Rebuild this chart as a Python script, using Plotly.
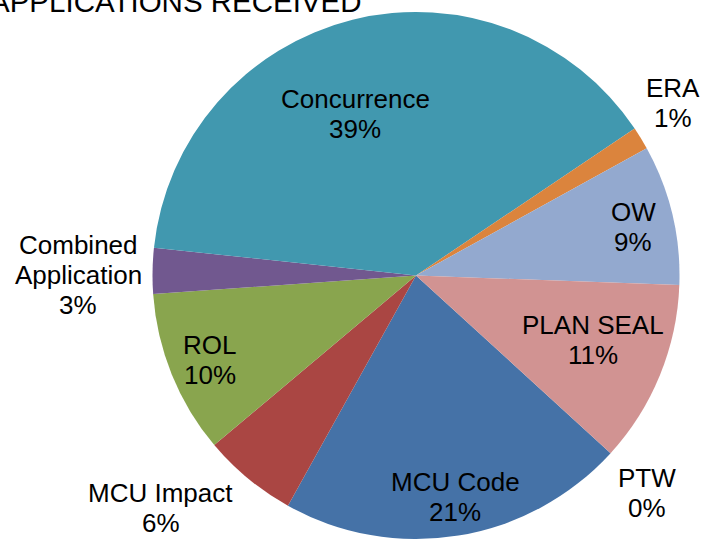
import math
import plotly.graph_objects as go

# ---- data ----
labels = ["MCU Code", "MCU Impact", "ROL", "Combined<br>Application", "Concurrence",
          "ERA", "OW", "PLAN SEAL", "PTW"]
values = [21.3, 5.8, 10.0, 2.8, 38.9, 1.4, 8.6, 11.2, 0.0]
title_text = "APPLICATIONS RECEIVED"

# ---- style ----
colors = ["#4572A7", "#AA4643", "#89A54E", "#71588F", "#4198AF",
          "#DB843D", "#93A9CF", "#D19392", "#B5CA92"]
# label placement: (angle nudge from slice bisector in degrees, radius as fraction of pie radius)
label_place = [(-1.0, 0.83), (8.6, 1.285), (0.5, 0.83), (-0.3, 1.266), (-6.2, 0.66),
               (-3.1, 1.166), (0.0, 0.836), (-3.3, 0.70), (0.4, 1.178)]

FONT = "Liberation Sans, Arial, sans-serif"
W, H = 701, 539
MT, MB = 12, 0
PH = H - MT - MB
cx_px, R = 416, PH / 2
ROT = 132.4
LINE = 30
# label ring (slightly larger than the drawable pie, as in the original)
LR = R + 3.5
LCY = MT + R + 3.5

fig = go.Figure(go.Pie(
    labels=labels,
    values=values,
    sort=False,
    direction="clockwise",
    rotation=ROT,
    marker=dict(colors=colors, line=dict(width=0)),
    textinfo="none",
    domain=dict(x=[(cx_px - R) / W, (cx_px + R) / W], y=[0, 1]),
    showlegend=False,
    hoverinfo="label+percent",
))

total = sum(values)
cum = 0.0
for lab, v, (nudge, rf) in zip(labels, values, label_place):
    mid = ROT + (cum + v / 2) / total * 360.0 + nudge
    cum += v
    th = math.radians(mid)
    px = cx_px + rf * LR * math.sin(th)
    py = LCY - rf * LR * math.cos(th)
    lines = lab.split("<br>") + [f"{round(v / total * 100)}%"]
    n = len(lines)
    for i, t in enumerate(lines):
        ly = py + (i - (n - 1) / 2) * LINE
        fig.add_annotation(
            text=t, xref="paper", yref="paper",
            x=px / W, y=(H - MB - ly) / PH,
            xanchor="center", yanchor="middle", showarrow=False,
            font=dict(family=FONT, size=26, color="#000000"),
        )

fig.add_annotation(
    text=title_text, xref="paper", yref="paper",
    x=-12 / W, y=1 + (MT - 1.8) / PH, xanchor="left", yanchor="middle",
    showarrow=False,
    font=dict(family=FONT, size=29.5, color="#000000"),
)

fig.update_layout(
    width=W, height=H,
    margin=dict(l=0, r=0, t=MT, b=MB, autoexpand=False),
    paper_bgcolor="white",
    plot_bgcolor="white",
)

fig.write_html("out.html",
               config={"displayModeBar": False},
               post_script="document.body.style.margin='0';document.body.style.overflow='hidden';")
